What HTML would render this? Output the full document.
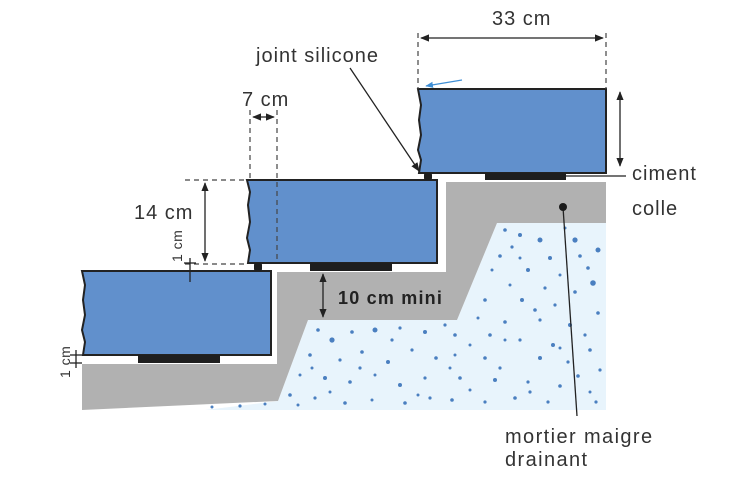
<!DOCTYPE html>
<html><head><meta charset="utf-8"><style>
html,body{margin:0;padding:0;background:#fff;}
svg{display:block;font-family:"Liberation Sans",sans-serif;}
</style></head><body>
<svg width="752" height="480" viewBox="0 0 752 480" xmlns="http://www.w3.org/2000/svg">
<defs>
<marker id="a" viewBox="0 0 10 10" refX="9" refY="5" markerWidth="7" markerHeight="7" orient="auto-start-reverse"><path d="M0,1 L10,5 L0,9 z" fill="#222"/></marker>
<marker id="b" viewBox="0 0 10 10" refX="9" refY="5" markerWidth="6" markerHeight="6" orient="auto"><path d="M0,1 L10,5 L0,9 z" fill="#3f8fd6"/></marker>
</defs>
<polygon points="497,223 606,223 606,410 205,410 278,401 308,320 457,320" fill="#e8f4fc"/>
<g fill="#4a7fc0">
<circle cx="505" cy="230" r="1.8"/><circle cx="520" cy="235" r="2"/><circle cx="540" cy="240" r="2.5"/><circle cx="575" cy="240" r="2.6"/><circle cx="598" cy="250" r="2.5"/><circle cx="500" cy="256" r="1.8"/><circle cx="520" cy="258" r="1.5"/><circle cx="550" cy="258" r="2"/><circle cx="580" cy="256" r="1.8"/><circle cx="492" cy="270" r="1.5"/><circle cx="528" cy="270" r="2"/><circle cx="560" cy="275" r="1.5"/><circle cx="593" cy="283" r="2.8"/><circle cx="510" cy="285" r="1.5"/><circle cx="545" cy="288" r="1.6"/><circle cx="575" cy="292" r="1.8"/><circle cx="485" cy="300" r="1.8"/><circle cx="522" cy="300" r="2"/><circle cx="555" cy="305" r="1.6"/><circle cx="598" cy="313" r="1.8"/><circle cx="478" cy="318" r="1.5"/><circle cx="505" cy="322" r="1.8"/><circle cx="540" cy="320" r="1.6"/><circle cx="570" cy="325" r="2"/><circle cx="455" cy="335" r="1.8"/><circle cx="490" cy="335" r="1.8"/><circle cx="520" cy="340" r="1.6"/><circle cx="553" cy="345" r="2"/><circle cx="590" cy="350" r="1.8"/><circle cx="455" cy="355" r="1.5"/><circle cx="485" cy="358" r="1.8"/><circle cx="540" cy="358" r="2"/><circle cx="568" cy="362" r="1.6"/><circle cx="600" cy="370" r="1.6"/><circle cx="460" cy="378" r="1.8"/><circle cx="495" cy="380" r="2"/><circle cx="528" cy="382" r="1.6"/><circle cx="560" cy="386" r="1.8"/><circle cx="590" cy="392" r="1.5"/><circle cx="452" cy="400" r="1.8"/><circle cx="485" cy="402" r="1.6"/><circle cx="515" cy="398" r="1.8"/><circle cx="548" cy="402" r="1.6"/>
<circle cx="318" cy="330" r="1.8"/><circle cx="332" cy="340" r="2.6"/><circle cx="352" cy="332" r="1.8"/><circle cx="375" cy="330" r="2.5"/><circle cx="400" cy="328" r="1.6"/><circle cx="425" cy="332" r="2"/><circle cx="445" cy="325" r="1.6"/><circle cx="310" cy="355" r="1.8"/><circle cx="340" cy="360" r="1.6"/><circle cx="362" cy="352" r="1.8"/><circle cx="388" cy="362" r="2"/><circle cx="412" cy="350" r="1.6"/><circle cx="436" cy="358" r="1.8"/><circle cx="300" cy="375" r="1.5"/><circle cx="325" cy="378" r="2"/><circle cx="350" cy="382" r="1.8"/><circle cx="375" cy="375" r="1.5"/><circle cx="400" cy="385" r="2"/><circle cx="425" cy="378" r="1.6"/><circle cx="290" cy="395" r="1.8"/><circle cx="315" cy="398" r="1.6"/><circle cx="345" cy="403" r="1.8"/><circle cx="372" cy="400" r="1.5"/><circle cx="405" cy="403" r="1.8"/><circle cx="430" cy="398" r="1.6"/><circle cx="212" cy="407" r="1.5"/><circle cx="240" cy="406" r="1.6"/><circle cx="265" cy="404" r="1.5"/>
<circle cx="512" cy="247" r="1.6"/><circle cx="565" cy="228" r="1.5"/><circle cx="588" cy="268" r="1.8"/><circle cx="535" cy="310" r="1.8"/><circle cx="585" cy="335" r="1.6"/><circle cx="500" cy="368" r="1.6"/><circle cx="578" cy="376" r="1.8"/><circle cx="470" cy="345" r="1.5"/><circle cx="530" cy="392" r="1.6"/><circle cx="596" cy="402" r="1.6"/><circle cx="470" cy="390" r="1.5"/><circle cx="330" cy="392" r="1.5"/><circle cx="392" cy="340" r="1.6"/><circle cx="450" cy="368" r="1.5"/><circle cx="360" cy="368" r="1.6"/><circle cx="312" cy="368" r="1.5"/><circle cx="418" cy="395" r="1.5"/><circle cx="298" cy="405" r="1.5"/><circle cx="505" cy="340" r="1.5"/><circle cx="560" cy="348" r="1.5"/>
</g>
<polygon points="82,364 277,364 277,272 446,272 446,182 606,182 606,223 497,223 457,320 308,320 278,401 82,410" fill="#b1b1b1"/>
<g fill="#6190cc" stroke="#222" stroke-width="2">
<path d="M418,89 L606,89 L606,173 L419,173 L421,160 L418,150 L421,135 L419,120 L421,105 Z"/>
<path d="M247,180 L437,180 L437,263 L248,263 L250,250 L247,238 L250,222 L248,205 L250,192 Z"/>
<path d="M82,271 L271,271 L271,355 L83,355 L85,342 L82,330 L85,315 L83,300 L85,285 Z"/>
</g>
<g fill="#1e1e1e">
<rect x="485" y="173" width="81" height="7"/><rect x="424" y="173" width="8" height="7" rx="2"/>
<rect x="310" y="263" width="82" height="8"/><rect x="254" y="263" width="8" height="8" rx="2"/>
<rect x="138" y="355" width="82" height="8"/>
</g>
<g stroke="#444" stroke-width="1.2" fill="none">
<path d="M418,33 V89 M606,33 V89 M250,110 V180 M277,110 V263 M185,180 H247 M185,264 H247" stroke-dasharray="5,4"/>
</g>
<g stroke="#222" stroke-width="1.3" fill="none">
<line x1="421" y1="38" x2="603" y2="38" marker-start="url(#a)" marker-end="url(#a)"/>
<line x1="620" y1="92" x2="620" y2="166" marker-start="url(#a)" marker-end="url(#a)"/>
<line x1="253" y1="117" x2="274" y2="117" marker-start="url(#a)" marker-end="url(#a)"/>
<line x1="205" y1="183" x2="205" y2="261" marker-start="url(#a)" marker-end="url(#a)"/>
<line x1="323" y1="274" x2="323" y2="317" marker-start="url(#a)" marker-end="url(#a)"/>
<line x1="350" y1="68" x2="419" y2="171" marker-end="url(#a)"/>
<line x1="566" y1="176" x2="626" y2="176"/>
<line x1="563" y1="207" x2="577" y2="416"/>
<line x1="190" y1="258" x2="190" y2="282"/><line x1="184" y1="263" x2="196" y2="263"/><line x1="184" y1="271" x2="196" y2="271"/>
<line x1="76" y1="350" x2="76" y2="368"/><line x1="70" y1="355" x2="82" y2="355"/><line x1="70" y1="363" x2="82" y2="363"/>
</g>
<line x1="462" y1="80" x2="426" y2="86" stroke="#3f8fd6" stroke-width="1.3" marker-end="url(#b)"/>
<circle cx="563" cy="207" r="4" fill="#1a1a1a"/>
<g fill="#333" font-size="20" letter-spacing="1">
<text x="492" y="25">33 cm</text>
<text x="256" y="62">joint silicone</text>
<text x="242" y="106">7 cm</text>
<text x="134" y="219">14 cm</text>
<text x="632" y="180">ciment</text>
<text x="632" y="215">colle</text>
<text x="505" y="443" letter-spacing="1.4">mortier maigre</text>
<text x="505" y="466" letter-spacing="1.4">drainant</text>
<text transform="translate(182,262) rotate(-90)" font-size="14" letter-spacing="0.5">1 cm</text>
<text transform="translate(70,378) rotate(-90)" font-size="14" letter-spacing="0.5">1 cm</text>
<text x="338" y="304" font-size="18" font-weight="bold" fill="#222" letter-spacing="1.2">10 cm mini</text>
</g>
</svg>
</body></html>
